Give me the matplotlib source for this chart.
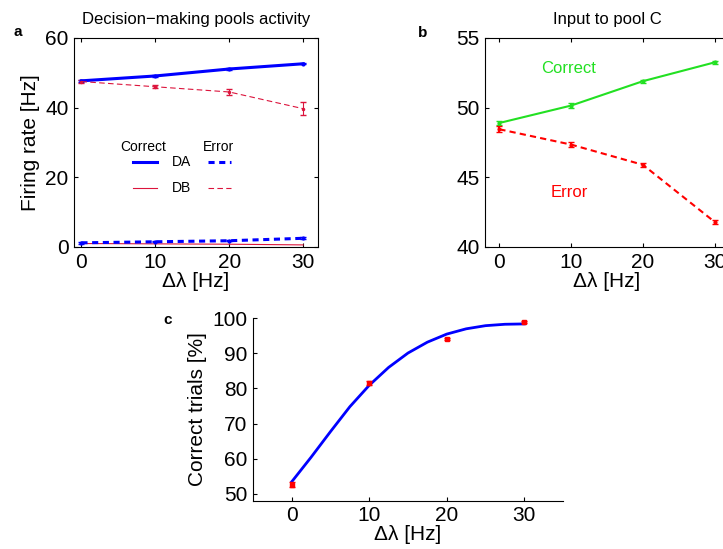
import numpy as np
import matplotlib
matplotlib.use("Agg")
import matplotlib.pyplot as plt
from matplotlib.lines import Line2D

plt.rcParams["font.family"] = ["Liberation Sans", "DejaVu Sans"]
plt.rcParams["axes.linewidth"] = 0.8

# ── Data ──
dl = [0, 10, 20, 30]

# panel a: decision-making pools activity [Hz]
da_correct = [47.7, 49.1, 51.1, 52.6]
da_correct_err = [0.2, 0.2, 0.2, 0.2]
db_correct = [1.0, 0.9, 0.8, 0.6]
da_error = [1.2, 1.5, 1.8, 2.5]
da_error_err = [0.2, 0.2, 0.2, 0.3]
db_error = [47.5, 46.0, 44.5, 39.7]
db_error_err = [0.3, 0.4, 0.8, 1.9]

# panel b: input to pool C [Hz]
c_correct = [48.9, 50.15, 51.9, 53.25]
c_correct_err = [0.15, 0.15, 0.12, 0.12]
c_error = [48.45, 47.35, 45.9, 41.8]
c_error_err = [0.2, 0.15, 0.15, 0.12]

# panel c: correct trials [%]
pc = [52.6, 81.5, 94.1, 98.9]
pc_err = [0.8, 0.6, 0.4, 0.2]
fit_x = [0, 2.5, 5, 7.5, 10, 12.5, 15, 17.5, 20, 22.5, 25, 27.5, 30]
fit_y = [53.4, 60.4, 67.7, 74.8, 80.9, 86.0, 90.1, 93.2, 95.5, 97.0, 97.9, 98.3, 98.4]

BLUE = "#0000FF"
CRIMSON = "#DC143C"
GREEN = "#22E022"
RED = "#FF0000"
TS = 15   # tick size
LS = 15   # label size

fig = plt.figure(figsize=(7.23, 5.49), dpi=100)


def box_ticks(ax):
    ax.tick_params(direction="in", length=3, width=0.8, labelsize=TS,
                   top=True, right=True, pad=4)


# ── Panel a ──
ax = fig.add_axes([0.1024, 0.5501, 0.3375, 0.3807])
ax.errorbar(dl, da_correct, yerr=da_correct_err, color=BLUE, lw=2.2,
            marker=".", ms=4, capsize=2)
ax.errorbar(dl, db_correct, color=CRIMSON, lw=0.8)
ax.errorbar(dl, da_error, yerr=da_error_err, color=BLUE, lw=2.2,
            ls=(0, (2, 1.5)), marker=".", ms=4, capsize=2)
ax.errorbar(dl, db_error, yerr=db_error_err, color=CRIMSON, lw=0.8,
            ls=(0, (5, 3)), marker=".", ms=3, capsize=2, elinewidth=0.8)
ax.set_xlim(-1, 32)
ax.set_ylim(0, 60)
ax.set_xticks([0, 10, 20, 30])
ax.set_yticks([0, 20, 40, 60])
box_ticks(ax)
ax.set_ylabel("Firing rate [Hz]", fontsize=LS, labelpad=4)
ax.set_xlabel("Δλ [Hz]", fontsize=LS, labelpad=0)
ax.set_title("Decision\u2212making pools activity", fontsize=12, pad=10)

# hand-made legend
tr = ax.transAxes
ax.text(0.19, 0.478, "Correct", transform=tr, fontsize=10, ha="left", va="center")
ax.text(0.53, 0.478, "Error", transform=tr, fontsize=10, ha="left", va="center")
ax.text(0.40, 0.407, "DA", transform=tr, fontsize=10, ha="left", va="center")
ax.text(0.40, 0.282, "DB", transform=tr, fontsize=10, ha="left", va="center")
ax.add_line(Line2D([0.24, 0.34], [0.407, 0.407], transform=tr, color=BLUE, lw=2.2))
ax.add_line(Line2D([0.55, 0.645], [0.407, 0.407], transform=tr, color=BLUE, lw=2.2,
                   ls=(0, (2, 1.5))))
ax.add_line(Line2D([0.24, 0.34], [0.282, 0.282], transform=tr, color=CRIMSON, lw=0.8))
ax.add_line(Line2D([0.55, 0.645], [0.282, 0.282], transform=tr, color=CRIMSON, lw=0.8,
                   ls=(0, (5, 3))))
fig.text(14 / 723, 1 - 32 / 549, "a", fontsize=11, fontweight="bold",
         ha="left", va="center")

# ── Panel b ──
ax = fig.add_axes([0.6708, 0.5501, 0.3375, 0.3807])
ax.errorbar(dl, c_correct, yerr=c_correct_err, color=GREEN, lw=1.5,
            marker=".", ms=4, capsize=2)
ax.errorbar(dl, c_error, yerr=c_error_err, color=RED, lw=1.5,
            ls=(0, (3, 2)), marker=".", ms=4, capsize=2, elinewidth=1.5)
ax.set_xlim(-2, 32)
ax.set_ylim(40, 55)
ax.set_xticks([0, 10, 20, 30])
ax.set_yticks([40, 45, 50, 55])
box_ticks(ax)
ax.set_xlabel("Δλ [Hz]", fontsize=LS, labelpad=0)
ax.set_title("Input to pool C", fontsize=12, pad=10)
ax.text(9.6, 52.8, "Correct", color=GREEN, fontsize=12, ha="center", va="center")
ax.text(9.8, 43.9, "Error", color=RED, fontsize=12, ha="center", va="center")
fig.text(418 / 723, 1 - 33 / 549, "b", fontsize=11, fontweight="bold",
         ha="left", va="center")

# ── Panel c ──
ax = fig.add_axes([0.3499, 0.088, 0.4288, 0.3322])
ax.plot(fit_x, fit_y, color=BLUE, lw=2)
ax.errorbar(dl, pc, yerr=pc_err, color=RED, ls="none", marker="s", ms=3.5,
            capsize=2)
ax.set_xlim(-5, 35)
ax.set_ylim(48, 100)
ax.set_xticks([0, 10, 20, 30])
ax.set_yticks([50, 60, 70, 80, 90, 100])
ax.spines["top"].set_visible(False)
ax.spines["right"].set_visible(False)
ax.tick_params(direction="in", length=3, width=0.8, labelsize=TS, pad=4)
ax.set_ylabel("Correct trials [%]", fontsize=LS, labelpad=4)
ax.set_xlabel("Δλ [Hz]", fontsize=LS, labelpad=0)
fig.text(163 / 723, 1 - 320 / 549, "c", fontsize=11, fontweight="bold",
         ha="left", va="center")

fig.savefig("out.png", dpi=100)
plt.close()
